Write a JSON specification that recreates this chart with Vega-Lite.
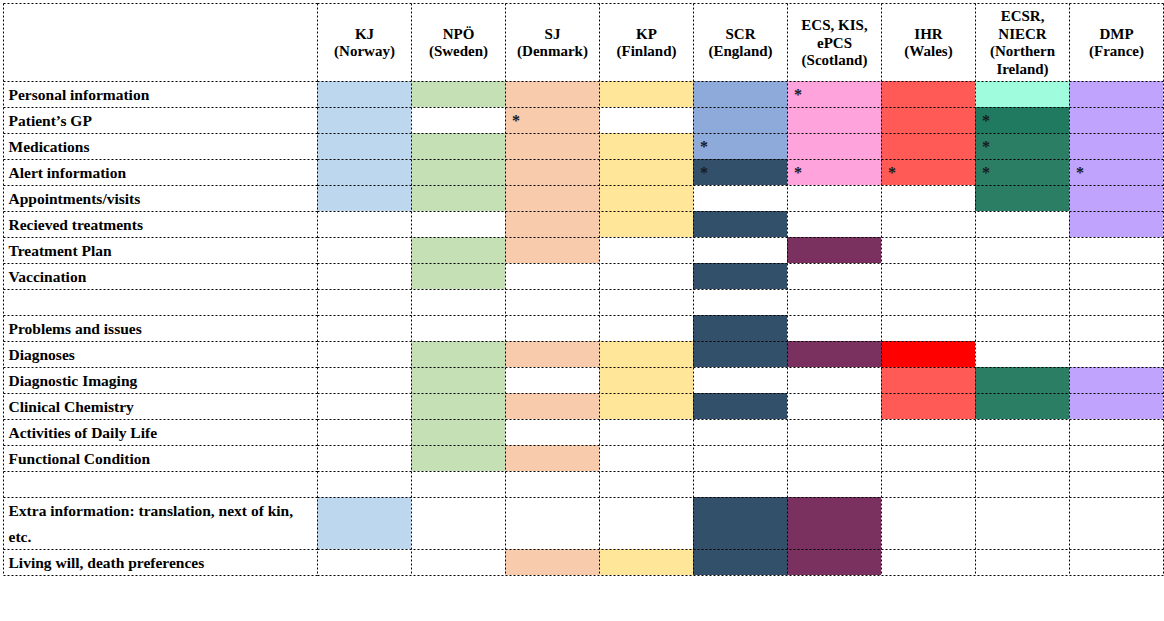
{
  "$schema": "https://vega.github.io/schema/vega-lite/v6.json",
  "width": 846,
  "height": 572,
  "autosize": {"type": "none"},
  "padding": {"left": 317, "top": 3, "right": 1, "bottom": 46},
  "background": "white",
  "config": {"view": {"stroke": null}, "font": "Liberation Serif"},
  "data": {"values": [
    {"item": "Personal information", "system": "KJ|(Norway)", "group": "KJ", "star": false},
    {"item": "Patient’s GP", "system": "KJ|(Norway)", "group": "KJ", "star": false},
    {"item": "Medications", "system": "KJ|(Norway)", "group": "KJ", "star": false},
    {"item": "Alert information", "system": "KJ|(Norway)", "group": "KJ", "star": false},
    {"item": "Appointments/visits", "system": "KJ|(Norway)", "group": "KJ", "star": false},
    {"item": "Extra information: translation, next of kin, etc.", "system": "KJ|(Norway)", "group": "KJ", "star": false},
    {"item": "Extra information (continued)", "system": "KJ|(Norway)", "group": "KJ", "star": false},

    {"item": "Personal information", "system": "NPÖ|(Sweden)", "group": "NPÖ", "star": false},
    {"item": "Medications", "system": "NPÖ|(Sweden)", "group": "NPÖ", "star": false},
    {"item": "Alert information", "system": "NPÖ|(Sweden)", "group": "NPÖ", "star": false},
    {"item": "Appointments/visits", "system": "NPÖ|(Sweden)", "group": "NPÖ", "star": false},
    {"item": "Treatment Plan", "system": "NPÖ|(Sweden)", "group": "NPÖ", "star": false},
    {"item": "Vaccination", "system": "NPÖ|(Sweden)", "group": "NPÖ", "star": false},
    {"item": "Diagnoses", "system": "NPÖ|(Sweden)", "group": "NPÖ", "star": false},
    {"item": "Diagnostic Imaging", "system": "NPÖ|(Sweden)", "group": "NPÖ", "star": false},
    {"item": "Clinical Chemistry", "system": "NPÖ|(Sweden)", "group": "NPÖ", "star": false},
    {"item": "Activities of Daily Life", "system": "NPÖ|(Sweden)", "group": "NPÖ", "star": false},
    {"item": "Functional Condition", "system": "NPÖ|(Sweden)", "group": "NPÖ", "star": false},

    {"item": "Personal information", "system": "SJ|(Denmark)", "group": "SJ", "star": false},
    {"item": "Patient’s GP", "system": "SJ|(Denmark)", "group": "SJ", "star": true},
    {"item": "Medications", "system": "SJ|(Denmark)", "group": "SJ", "star": false},
    {"item": "Alert information", "system": "SJ|(Denmark)", "group": "SJ", "star": false},
    {"item": "Appointments/visits", "system": "SJ|(Denmark)", "group": "SJ", "star": false},
    {"item": "Recieved treatments", "system": "SJ|(Denmark)", "group": "SJ", "star": false},
    {"item": "Treatment Plan", "system": "SJ|(Denmark)", "group": "SJ", "star": false},
    {"item": "Diagnoses", "system": "SJ|(Denmark)", "group": "SJ", "star": false},
    {"item": "Clinical Chemistry", "system": "SJ|(Denmark)", "group": "SJ", "star": false},
    {"item": "Functional Condition", "system": "SJ|(Denmark)", "group": "SJ", "star": false},
    {"item": "Living will, death preferences", "system": "SJ|(Denmark)", "group": "SJ", "star": false},

    {"item": "Personal information", "system": "KP|(Finland)", "group": "KP", "star": false},
    {"item": "Medications", "system": "KP|(Finland)", "group": "KP", "star": false},
    {"item": "Alert information", "system": "KP|(Finland)", "group": "KP", "star": false},
    {"item": "Appointments/visits", "system": "KP|(Finland)", "group": "KP", "star": false},
    {"item": "Recieved treatments", "system": "KP|(Finland)", "group": "KP", "star": false},
    {"item": "Diagnoses", "system": "KP|(Finland)", "group": "KP", "star": false},
    {"item": "Diagnostic Imaging", "system": "KP|(Finland)", "group": "KP", "star": false},
    {"item": "Clinical Chemistry", "system": "KP|(Finland)", "group": "KP", "star": false},
    {"item": "Living will, death preferences", "system": "KP|(Finland)", "group": "KP", "star": false},

    {"item": "Personal information", "system": "SCR|(England)", "group": "SCR-1", "star": false},
    {"item": "Patient’s GP", "system": "SCR|(England)", "group": "SCR-1", "star": false},
    {"item": "Medications", "system": "SCR|(England)", "group": "SCR-1", "star": true},
    {"item": "Alert information", "system": "SCR|(England)", "group": "SCR-2", "star": true},
    {"item": "Recieved treatments", "system": "SCR|(England)", "group": "SCR-2", "star": false},
    {"item": "Vaccination", "system": "SCR|(England)", "group": "SCR-2", "star": false},
    {"item": "Problems and issues", "system": "SCR|(England)", "group": "SCR-2", "star": false},
    {"item": "Diagnoses", "system": "SCR|(England)", "group": "SCR-2", "star": false},
    {"item": "Clinical Chemistry", "system": "SCR|(England)", "group": "SCR-2", "star": false},
    {"item": "Extra information: translation, next of kin, etc.", "system": "SCR|(England)", "group": "SCR-2", "star": false},
    {"item": "Extra information (continued)", "system": "SCR|(England)", "group": "SCR-2", "star": false},
    {"item": "Living will, death preferences", "system": "SCR|(England)", "group": "SCR-2", "star": false},

    {"item": "Personal information", "system": "ECS, KIS,|ePCS|(Scotland)", "group": "ECS-1", "star": true},
    {"item": "Patient’s GP", "system": "ECS, KIS,|ePCS|(Scotland)", "group": "ECS-1", "star": false},
    {"item": "Medications", "system": "ECS, KIS,|ePCS|(Scotland)", "group": "ECS-1", "star": false},
    {"item": "Alert information", "system": "ECS, KIS,|ePCS|(Scotland)", "group": "ECS-1", "star": true},
    {"item": "Treatment Plan", "system": "ECS, KIS,|ePCS|(Scotland)", "group": "ECS-2", "star": false},
    {"item": "Diagnoses", "system": "ECS, KIS,|ePCS|(Scotland)", "group": "ECS-2", "star": false},
    {"item": "Extra information: translation, next of kin, etc.", "system": "ECS, KIS,|ePCS|(Scotland)", "group": "ECS-2", "star": false},
    {"item": "Extra information (continued)", "system": "ECS, KIS,|ePCS|(Scotland)", "group": "ECS-2", "star": false},
    {"item": "Living will, death preferences", "system": "ECS, KIS,|ePCS|(Scotland)", "group": "ECS-2", "star": false},

    {"item": "Personal information", "system": "IHR|(Wales)", "group": "IHR-1", "star": false},
    {"item": "Patient’s GP", "system": "IHR|(Wales)", "group": "IHR-1", "star": false},
    {"item": "Medications", "system": "IHR|(Wales)", "group": "IHR-1", "star": false},
    {"item": "Alert information", "system": "IHR|(Wales)", "group": "IHR-1", "star": true},
    {"item": "Diagnoses", "system": "IHR|(Wales)", "group": "IHR-2", "star": false},
    {"item": "Diagnostic Imaging", "system": "IHR|(Wales)", "group": "IHR-1", "star": false},
    {"item": "Clinical Chemistry", "system": "IHR|(Wales)", "group": "IHR-1", "star": false},

    {"item": "Personal information", "system": "ECSR,|NIECR|(Northern|Ireland)", "group": "ECSR-1", "star": false},
    {"item": "Patient’s GP", "system": "ECSR,|NIECR|(Northern|Ireland)", "group": "ECSR-2", "star": true},
    {"item": "Medications", "system": "ECSR,|NIECR|(Northern|Ireland)", "group": "ECSR-3", "star": true},
    {"item": "Alert information", "system": "ECSR,|NIECR|(Northern|Ireland)", "group": "ECSR-3", "star": true},
    {"item": "Appointments/visits", "system": "ECSR,|NIECR|(Northern|Ireland)", "group": "ECSR-3", "star": false},
    {"item": "Diagnostic Imaging", "system": "ECSR,|NIECR|(Northern|Ireland)", "group": "ECSR-3", "star": false},
    {"item": "Clinical Chemistry", "system": "ECSR,|NIECR|(Northern|Ireland)", "group": "ECSR-3", "star": false},

    {"item": "Personal information", "system": "DMP|(France)", "group": "DMP", "star": false},
    {"item": "Patient’s GP", "system": "DMP|(France)", "group": "DMP", "star": false},
    {"item": "Medications", "system": "DMP|(France)", "group": "DMP", "star": false},
    {"item": "Alert information", "system": "DMP|(France)", "group": "DMP", "star": true},
    {"item": "Appointments/visits", "system": "DMP|(France)", "group": "DMP", "star": false},
    {"item": "Recieved treatments", "system": "DMP|(France)", "group": "DMP", "star": false},
    {"item": "Diagnostic Imaging", "system": "DMP|(France)", "group": "DMP", "star": false},
    {"item": "Clinical Chemistry", "system": "DMP|(France)", "group": "DMP", "star": false}
  ]},
  "layer": [
    {
      "mark": {"type": "rect"},
      "encoding": {
        "x": {
          "field": "system", "type": "nominal",
          "scale": {
            "domain": ["KJ|(Norway)", "NPÖ|(Sweden)", "SJ|(Denmark)", "KP|(Finland)", "SCR|(England)", "ECS, KIS,|ePCS|(Scotland)", "IHR|(Wales)", "ECSR,|NIECR|(Northern|Ireland)", "DMP|(France)"],
            "paddingInner": 0, "paddingOuter": 0
          },
          "axis": {
            "orient": "top", "title": null, "domain": false, "ticks": false, "zindex": 1,
            "tickBand": "extent",
            "grid": true, "gridColor": "#000000", "gridDash": [2, 2], "gridWidth": 1, "gridOpacity": 1,
            "labelAngle": 0, "labelAlign": "center", "labelBaseline": "middle",
            "labelExpr": "isString(datum.value) ? split(datum.value, '|') : ''",
            "labelFont": "Liberation Serif", "labelFontWeight": "bold", "labelFontSize": 15,
            "labelColor": "black",
            "labelPadding": {"condition": [
              {"test": "isString(datum.value) && length(split(datum.value, '|')) == 4", "value": -12.75},
              {"test": "isString(datum.value) && length(split(datum.value, '|')) == 3", "value": -21.5}
            ], "value": -30},
            "labelLineHeight": 17.5,
            "labelOverlap": false, "labelBound": false, "labelLimit": 0
          }
        },
        "y": {
          "field": "item", "type": "nominal",
          "scale": {
            "domain": ["(header 1)", "(header 2)", "(header 3)", "Personal information", "Patient’s GP", "Medications", "Alert information", "Appointments/visits", "Recieved treatments", "Treatment Plan", "Vaccination", "(blank 1)", "Problems and issues", "Diagnoses", "Diagnostic Imaging", "Clinical Chemistry", "Activities of Daily Life", "Functional Condition", "(blank 2)", "Extra information: translation, next of kin, etc.", "Extra information (continued)", "Living will, death preferences"],
            "paddingInner": 0, "paddingOuter": 0
          },
          "axis": {
            "orient": "left", "title": null, "offset": 314, "zindex": 1,
            "domain": true, "domainColor": "#000000", "domainDash": [2, 2], "domainWidth": 1,
            "ticks": true, "tickBand": "extent", "tickSize": -314,
            "tickColor": "#000000", "tickDash": [2, 2], "tickWidth": 1,
            "tickOpacity": {"condition": {"test": "datum.value == '(header 1)' || datum.value == '(header 2)' || datum.value == 'Extra information: translation, next of kin, etc.'", "value": 0}, "value": 1},
            "grid": true, "gridColor": "#000000", "gridDash": [2, 2], "gridWidth": 1,
            "gridOpacity": {"condition": {"test": "datum.value == '(header 1)' || datum.value == '(header 2)' || datum.value == 'Extra information: translation, next of kin, etc.'", "value": 0}, "value": 1},
            "labelAlign": "left", "labelBaseline": "middle", "labelPadding": 309,
            "labelExpr": "!isString(datum.value) || indexof(datum.value, '(header') == 0 || indexof(datum.value, '(blank') == 0 ? '' : datum.value == 'Extra information: translation, next of kin, etc.' ? 'Extra information: translation, next of kin,' : datum.value == 'Extra information (continued)' ? 'etc.' : datum.value",
            "labelFont": "Liberation Serif", "labelFontWeight": "bold", "labelFontSize": 15.5,
            "labelColor": "black", "labelLimit": 400, "labelOverlap": false, "labelBound": false
          }
        },
        "color": {
          "field": "group", "type": "nominal", "legend": null,
          "scale": {
            "domain": ["KJ", "NPÖ", "SJ", "KP", "SCR-1", "SCR-2", "ECS-1", "ECS-2", "IHR-1", "IHR-2", "ECSR-1", "ECSR-2", "ECSR-3", "DMP"],
            "range": ["#bdd7ee", "#c5e0b4", "#f8cbad", "#ffe699", "#8eaadb", "#33506b", "#ffa3dc", "#7b3160", "#ff5a55", "#ff0000", "#9ffcdd", "#1f7a60", "#2b7e64", "#bfa3fd"]
          }
        }
      }
    },
    {
      "transform": [{"filter": "datum.star"}],
      "mark": {"type": "text", "align": "left", "baseline": "middle", "dx": 7, "dy": 1, "fontSize": 16, "fontWeight": "bold", "font": "Liberation Serif", "color": "#1a1a1a"},
      "encoding": {
        "x": {"field": "system", "type": "nominal", "bandPosition": 0},
        "y": {"field": "item", "type": "nominal"},
        "text": {"value": "*"}
      }
    }
  ]
}
